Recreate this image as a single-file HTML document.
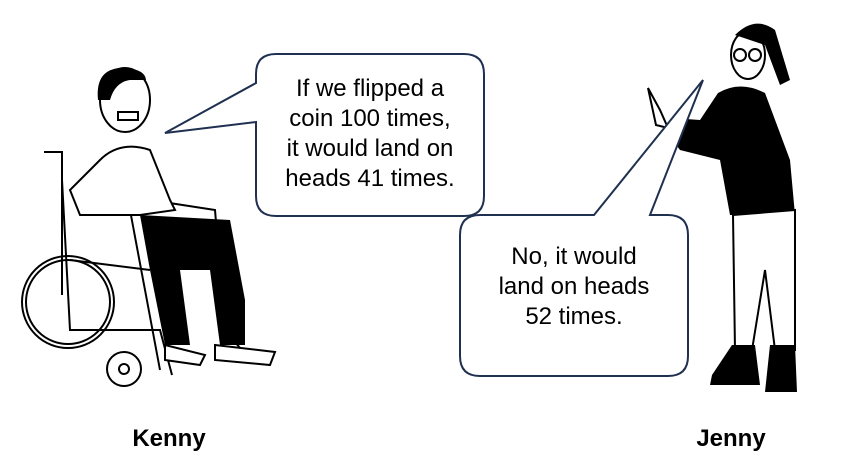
<!DOCTYPE html>
<html><head><style>
body{margin:0;background:#fff;width:862px;height:460px;overflow:hidden}
svg{display:block}
text{font-family:"Liberation Sans",Arial,sans-serif}
</style></head><body>
<svg width="862" height="460" viewBox="0 0 862 460">
<g fill="none" stroke="#000" stroke-width="2">
<circle cx="68" cy="302" r="46"/><circle cx="68" cy="302" r="42"/>
<circle cx="124" cy="369" r="17"/><circle cx="124" cy="369" r="5"/>
<path d="M44 152 L62 152 L62 295 M62 180 L70 330 L160 330 L172 375 M70 260 L150 270 M150 200 L215 210 L225 330 L250 360"/>
<path d="M130 210 L160 370"/>
</g>
<path d="M100 160 Q120 140 150 150 L170 200 L175 210 L140 215 L80 215 L70 190 Z" fill="#fff" stroke="#000" stroke-width="2"/>
<path d="M140 215 L230 220 L245 300 L245 345 L220 345 L210 270 L180 270 L190 345 L165 345 L150 270 Z" fill="#000"/>
<path d="M165 345 L205 355 L200 365 L165 360 Z M215 345 L275 352 L270 365 L215 360 Z" fill="#fff" stroke="#000" stroke-width="2"/>
<ellipse cx="125" cy="100" rx="25" ry="32" fill="#fff" stroke="#000" stroke-width="2"/>
<path d="M98 100 Q95 70 120 68 Q145 68 146 80 L130 80 Q115 82 110 100 Z" fill="#000"/>
<rect x="118" y="112" width="20" height="8" fill="#fff" stroke="#000" stroke-width="2"/>
<path d="M718 93 Q740 80 765 93 L790 160 L795 215 L800 255 L795 215 L730 215 L720 160 L680 150 L665 130 L672 118 L700 120 Z" fill="#000"/>
<path d="M733 215 L795 210 L795 350 L775 350 L765 270 L752 350 L735 350 Z" fill="#fff" stroke="#000" stroke-width="2"/>
<path d="M732 345 L755 345 L760 385 L710 385 L712 375 Z M770 345 L795 345 L797 392 L765 392 Z" fill="#000"/>
<ellipse cx="748" cy="55" rx="17" ry="24" fill="#fff" stroke="#000" stroke-width="2"/>
<path d="M735 35 Q755 15 775 30 L790 80 L780 85 L765 45 Z" fill="#000"/>
<circle cx="740" cy="55" r="6" fill="none" stroke="#000" stroke-width="2"/>
<circle cx="755" cy="55" r="6" fill="none" stroke="#000" stroke-width="2"/>
<path d="M648 88 L660 110 L668 128 L656 125 Z" fill="#fff" stroke="#000" stroke-width="2"/>
<path d="M276 54 L464 54 Q484 54 484 74 L484 196 Q484 216 464 216 L276 216 Q256 216 256 196 L256 122 L165 133 L256 83 L256 74 Q256 54 276 54 Z" fill="#fff" stroke="#1f3050" stroke-width="2"/>
<path d="M480 215 L594 215 L703 80 L650 215 L668 215 Q688 215 688 235 L688 356 Q688 376 668 376 L480 376 Q460 376 460 356 L460 235 Q460 215 480 215 Z" fill="#fff" stroke="#1f3050" stroke-width="2"/>
<g font-size="24" fill="#000" text-anchor="middle">
<text x="370" y="96">If we flipped a</text>
<text x="370" y="126">coin 100 times,</text>
<text x="370" y="156">it would land on</text>
<text x="370" y="186">heads 41 times.</text>
<text x="574" y="264">No, it would</text>
<text x="574" y="294">land on heads</text>
<text x="574" y="324">52 times.</text>
</g>
<g font-size="24" font-weight="bold" text-anchor="middle">
<text x="169" y="446">Kenny</text>
<text x="731" y="446">Jenny</text>
</g>
</svg>
</body></html>
